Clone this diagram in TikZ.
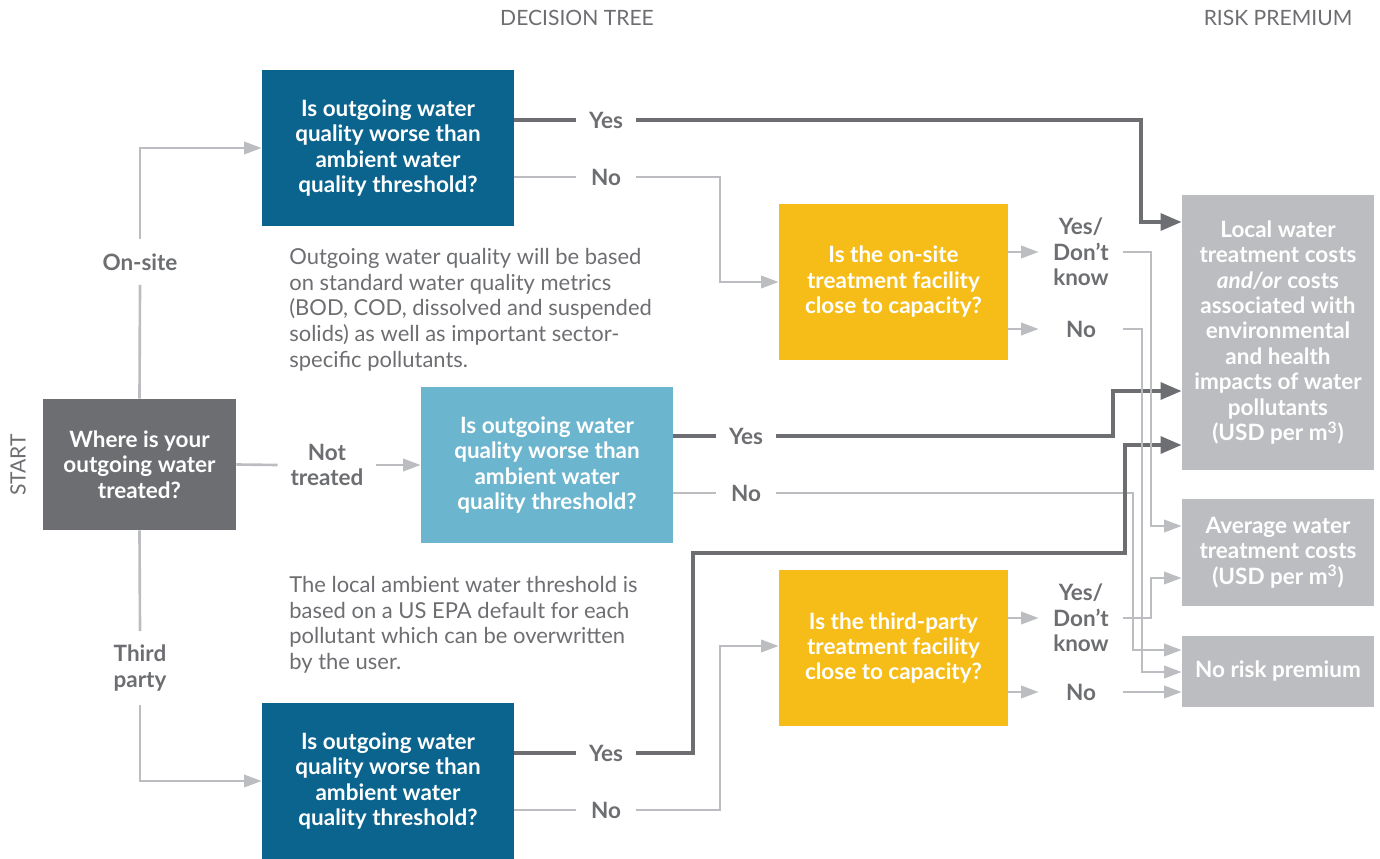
\documentclass[tikz,border=0pt]{standalone}
\usepackage{fontspec}
\setmainfont{Lato}
\usetikzlibrary{arrows.meta}

\definecolor{qblue}{HTML}{0A648E}
\definecolor{qlight}{HTML}{6CB5CE}
\definecolor{qyellow}{HTML}{F6BC18}
\definecolor{qgray}{HTML}{BCBDC0}
\definecolor{qdark}{HTML}{6D6E71}

\tikzset{
  box/.style={rectangle, inner sep=0pt, text=white, align=center,
    font=\bfseries\fontsize{12.8}{14.5}\selectfont},
  question/.style={box, minimum width=5.04cm, minimum height=3.12cm},
  capacity/.style={box, fill=qyellow, minimum width=4.58cm, minimum height=3.12cm},
  premium/.style={box, fill=qgray, minimum width=3.84cm},
  answer/.style={inner sep=0pt, text=qdark, align=center,
    font=\bfseries\fontsize{12.8}{14.5}\selectfont},
  yesno/.style={answer, minimum width=1.2cm},
  head/.style={text=qdark, font=\fontsize{12}{14}\selectfont},
  note/.style={inner sep=0pt, text=qdark, align=left,
    font=\fontsize{12.5}{14.6}\selectfont},
  lightline/.style={draw=qgray, line width=1.5pt},
  darkline/.style={draw=qdark, line width=2.3pt},
  lightarrow/.style={lightline, -{Triangle[length=10pt,width=7pt]}},
  darkarrow/.style={darkline, -{Triangle[length=12pt,width=9.5pt]}}
}

\begin{document}
\begin{tikzpicture}[x=0.02cm, y=-0.02cm]
  \useasboundingbox (0,0) rectangle (1380,859);

  \node [head] (hdtree) at (577,18) {DECISION TREE};
  \node [head] (hdrisk) at (1278,18) {RISK PREMIUM};
  \node [head, rotate=90] (hdstart) at (18,465) {START};

  % question boxes
  \node [box, fill=qdark, minimum width=3.86cm, minimum height=2.62cm] (where) at (139.5,464.5)
    {Where is your\\outgoing water\\treated?};
  \node [question, fill=qblue] (qOn) at (388,148)
    {Is outgoing water\\quality worse than\\ambient water\\quality threshold?};
  \node [question, fill=qlight] (qNot) at (547,465)
    {Is outgoing water\\quality worse than\\ambient water\\quality threshold?};
  \node [question, fill=qblue] (qThird) at (388,781)
    {Is outgoing water\\quality worse than\\ambient water\\quality threshold?};
  \node [capacity] (cOn) at (893.5,282)
    {Is the on-site\\treatment facility\\close to capacity?};
  \node [capacity] (cThird) at (893.5,648)
    {Is the third-party\\treatment facility\\close to capacity?};

  % risk premium boxes
  \node [premium, minimum height=5.5cm] (risk1) at (1278,332.5)
    {Local water\\treatment costs\\\textit{and/or} costs\\associated with\\environmental\\and health\\impacts of water\\pollutants\\(USD per m\textsuperscript{3})};
  \node [premium, minimum height=2.14cm] (risk2) at (1278,552.5)
    {Average water\\treatment costs\\(USD per m\textsuperscript{3})};
  \node [premium, minimum height=1.42cm] (risk3) at (1278,671.5) {No risk premium};

  % notes
  \node [note, anchor=north west] (noteA) at (289,248)
    {Outgoing water quality will be based\\on standard water quality metrics\\(BOD, COD, dissolved and suspended\\solids) as well as important sector-\\specific pollutants.};
  \node [note, anchor=north west] (noteB) at (289,576)
    {The local ambient water threshold is\\based on a US EPA default for each\\pollutant which can be overwritten\\by the user.};

  % answers
  \node [answer, minimum height=0.9cm] (onsite) at (140,262) {On-site};
  \node [answer, minimum height=1.46cm] (thirdp) at (140,668) {Third\\party};
  \node [answer, minimum width=1.96cm] (nottr) at (327,465) {Not\\treated};
  \node [yesno] (yesA) at (606,120) {Yes};
  \node [yesno] (noA) at (606,177) {No};
  \node [yesno] (yesB) at (746,436) {Yes};
  \node [yesno] (noB) at (746,493) {No};
  \node [yesno] (yesC) at (606,753) {Yes};
  \node [yesno] (noC) at (606,810) {No};
  \node [answer, minimum width=1.68cm] (ydkA) at (1081,252) {Yes/\\Don’t\\know};
  \node [answer, minimum width=1.68cm] (noD) at (1081,329) {No};
  \node [answer, minimum width=1.68cm] (ydkB) at (1081,618) {Yes/\\Don’t\\know};
  \node [answer, minimum width=1.68cm] (noE) at (1081,692) {No};

  % turning points
  \coordinate (t1) at (1141,222);
  \coordinate (t2) at (720,282);
  \coordinate (t3) at (1113,391);
  \coordinate (t4) at (1133,650);
  \coordinate (t5) at (693,553);
  \coordinate (t6) at (1125,445);
  \coordinate (t7) at (720,646);
  \coordinate (t8) at (1151,526);
  \coordinate (t9) at (1142,672);
  \coordinate (t10) at (1151,578);

  % where is it treated
  \draw [lightline] (where.north) -- (onsite.south);
  \draw [lightarrow] (onsite.north) |- (qOn.west);
  \draw [lightline] (where.south) -- (thirdp.north);
  \draw [lightarrow] (thirdp.south) |- (qThird.west);
  \draw [lightline] (where.east) -- (nottr.west);
  \draw [lightarrow] (nottr.east) -- (qNot.west);

  % on-site
  \draw [darkline] (qOn.east |- yesA) -- (yesA.west);
  \draw [darkarrow] (yesA.east) -| (t1) -- (risk1.west |- t1);
  \draw [lightline] (qOn.east |- noA) -- (noA.west);
  \draw [lightarrow] (noA.east) -| (t2) -- (cOn.west);

  % not treated
  \draw [darkline] (qNot.east |- yesB) -- (yesB.west);
  \draw [darkarrow] (yesB.east) -| (t3) -- (risk1.west |- t3);
  \draw [lightline] (qNot.east |- noB) -- (noB.west);
  \draw [lightarrow] (noB.east) -| (t4) -- (risk3.west |- t4);

  % third party
  \draw [darkline] (qThird.east |- yesC) -- (yesC.west);
  \draw [darkarrow] (yesC.east) -| (t5) -| (t6) -- (risk1.west |- t6);
  \draw [lightline] (qThird.east |- noC) -- (noC.west);
  \draw [lightarrow] (noC.east) -| (t7) -- (cThird.west |- t7);

  % capacity
  \draw [lightarrow] (cOn.east |- ydkA) -- (ydkA.west);
  \draw [lightarrow] (ydkA.east) -| (t8) -- (risk2.west |- t8);
  \draw [lightarrow] (cOn.east |- noD) -- (noD.west);
  \draw [lightarrow] (noD.east) -| (t9) -- (risk3.west |- t9);
  \draw [lightarrow] (cThird.east |- ydkB) -- (ydkB.west);
  \draw [lightarrow] (ydkB.east) -| (t10) -- (risk2.west |- t10);
  \draw [lightarrow] (cThird.east |- noE) -- (noE.west);
  \draw [lightarrow] (noE.east) -- (risk3.west |- noE);
\end{tikzpicture}
\end{document}
